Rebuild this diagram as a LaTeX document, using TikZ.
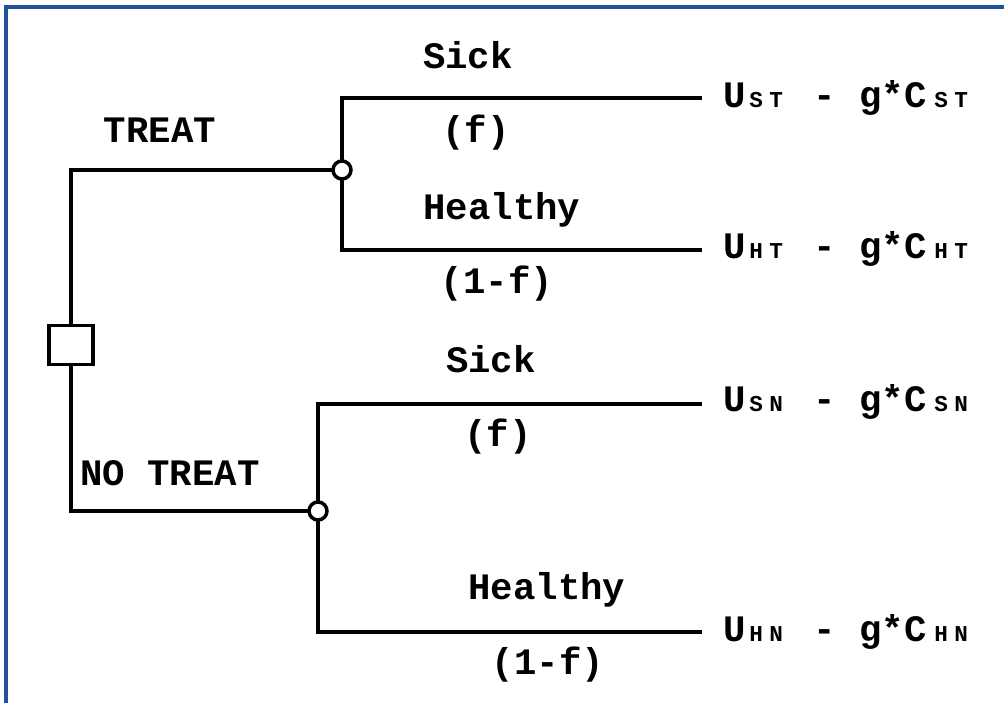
\documentclass[tikz,border=0pt]{standalone}
\usepackage{fontspec}
\setmainfont{Liberation Mono}
\newcommand{\subf}{\fontsize{17}{19}\selectfont}
\newcommand{\outcome}[2]{%
 \rlap{U}\hspace*{19.5pt}\rlap{\subf #1}\hspace*{15pt}\rlap{\subf #2}\hspace*{33.2pt}\rlap{-}\hspace*{34.3pt}\rlap{g*C}\hspace*{56.25pt}\rlap{\subf #1}\hspace*{15pt}{\subf #2}}
\definecolor{frameblue}{RGB}{32,80,158}
\begin{document}
\begin{tikzpicture}[x=0.75pt,y=-0.75pt,
  every node/.style={font=\fontsize{28}{30}\selectfont\bfseries},
  branch/.style={line width=2.8pt,line cap=rect},
  decision/.style={draw,line width=2.6pt,rectangle,minimum width=33pt,minimum height=29pt,inner sep=0pt,fill=white},
  chance/.style={draw,line width=2.6pt,circle,minimum size=13.5pt,inner sep=0pt,fill=white},
  lbl/.style={anchor=center,inner sep=0pt},
  outc/.style={anchor=base west,inner sep=0pt}]
\useasboundingbox (0,0) rectangle (1004,703);
\fill[white] (0,0) rectangle (1004,703);
\draw[frameblue,line width=2.4pt] (6,703) -- (6,7) -- (1004,7);

% nodes
\node[decision] (dec) at (71,345) {};
\node[chance] (c1) at (342,170) {};
\node[chance] (c2) at (318,511) {};
\coordinate (e1) at (700,98);
\coordinate (e2) at (700,250);
\coordinate (e3) at (700,404);
\coordinate (e4) at (700,632);

% connectors
\draw[branch] (dec.north) |- (c1.west);
\draw[branch] (dec.south) |- (c2.west);
\draw[branch] (c1.north) |- (e1);
\draw[branch] (c1.south) |- (e2);
\draw[branch] (c2.north) |- (e3);
\draw[branch] (c2.south) |- (e4);

% labels
\node[lbl] (l1) at (160,130) {TREAT};
\node[lbl] (l2) at (170,473) {NO TREAT};
\node[lbl] (s1) at (468,55) {Sick};
\node[lbl] (p1) at (476,133) {(f)};
\node[lbl] (h1) at (502,210) {Healthy};
\node[lbl] (q1) at (497,284) {(1-f)};
\node[lbl] (s2) at (491,359) {Sick};
\node[lbl] (p2) at (498,437) {(f)};
\node[lbl] (h2) at (547,590) {Healthy};
\node[lbl] (q2) at (548,665) {(1-f)};

% outcomes
\node[outc] (o1) at (723,107) {\outcome{S}{T}};
\node[outc] (o2) at (723,258) {\outcome{H}{T}};
\node[outc] (o3) at (723,411) {\outcome{S}{N}};
\node[outc] (o4) at (723,641) {\outcome{H}{N}};
\end{tikzpicture}
\end{document}
